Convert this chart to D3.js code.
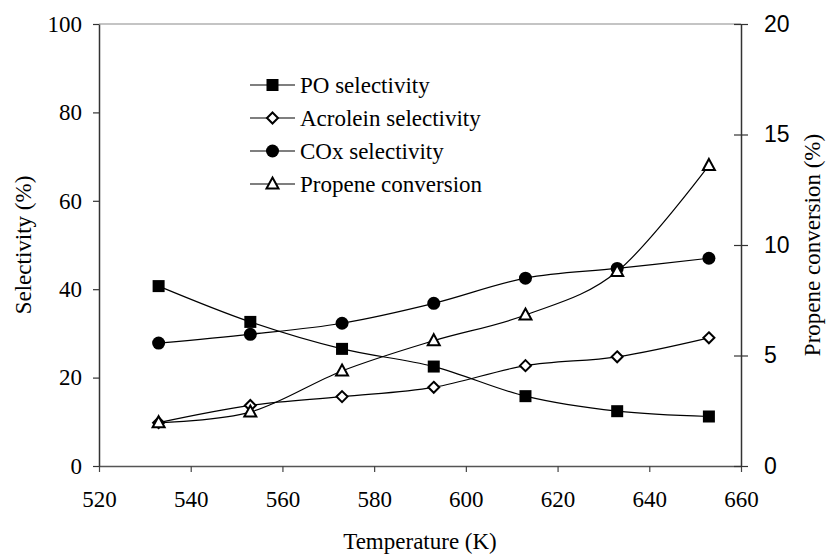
<!DOCTYPE html>
<html>
<head>
<meta charset="utf-8">
<script src="https://cdn.jsdelivr.net/npm/d3@7"></script>
<style>
  html, body { margin: 0; padding: 0; background: #fff; }
  svg text.serif { font-family: "Liberation Serif" !important; }
  svg text.sans { font-family: "Liberation Sans" !important; }
</style>
</head>
<body>
<svg id="fig" width="827" height="557"></svg>
<script>
// Reaction temperature (K)
const temperatures = [533, 553, 573, 593, 613, 633, 653];
// Selectivities (%), left axis
const poSelectivity = [40.7, 32.6, 26.5, 22.5, 15.8, 12.4, 11.2];
const acroleinSelectivity = [9.8, 13.7, 15.7, 17.8, 22.7, 24.7, 29.0];
const coxSelectivity = [27.8, 29.8, 32.3, 36.8, 42.5, 44.7, 47.0];
// Propene conversion (%), right axis
const propeneConversion = [1.96, 2.44, 4.3, 5.67, 6.83, 8.8, 13.6];

const xTicks = [520, 540, 560, 580, 600, 620, 640, 660];
const leftTicks = [0, 20, 40, 60, 80, 100];
const rightTicks = [0, 5, 10, 15, 20];

const seriesNames = ["PO selectivity", "Acrolein selectivity", "COx selectivity", "Propene conversion"];

const FS = 23;

const svg = d3.select("#fig");
const plot = { left: 99, right: 741, top: 24, bottom: 466 };

const x = d3.scaleLinear().domain([520, 660]).range([plot.left, plot.right]);
const yL = d3.scaleLinear().domain([0, 100]).range([plot.bottom, plot.top]);
const yR = d3.scaleLinear().domain([0, 20]).range([plot.bottom, plot.top]);

function serifText(sel) {
  return sel.attr("class", "serif").attr("font-family", "Liberation Serif")
    .style("font-family", "Liberation Serif").attr("font-size", FS);
}
function sansText(sel) {
  return sel.attr("class", "sans").attr("font-family", "Liberation Sans")
    .style("font-family", "Liberation Sans").attr("font-size", FS);
}

// top border of the plot area
svg.append("line")
  .attr("x1", plot.left).attr("x2", plot.right)
  .attr("y1", plot.top).attr("y2", plot.top)
  .attr("stroke", "#8a8a8a").attr("stroke-width", 1.2);

// bottom axis
const gx = svg.append("g")
  .attr("transform", `translate(0,${plot.bottom})`)
  .call(d3.axisBottom(x).tickValues(xTicks).tickSize(6).tickSizeOuter(0).tickPadding(19).tickFormat(d3.format("d")));
gx.attr("font-family", "Liberation Serif").attr("font-size", FS);
gx.select(".domain").attr("stroke", "#555").attr("stroke-width", 1.3);
gx.selectAll(".tick line").attr("stroke", "#444").attr("stroke-width", 1.2);
serifText(gx.selectAll(".tick text")).attr("fill", "#000");

// left axis
const gl = svg.append("g")
  .attr("transform", `translate(${plot.left},0)`)
  .call(d3.axisLeft(yL).tickValues(leftTicks).tickSize(6).tickSizeOuter(0).tickPadding(11));
gl.attr("font-family", "Liberation Serif").attr("font-size", FS);
gl.select(".domain").attr("stroke", "#333").attr("stroke-width", 1.5);
gl.selectAll(".tick line").attr("stroke", "#333").attr("stroke-width", 1.2);
serifText(gl.selectAll(".tick text")).attr("fill", "#000");

// right axis, ticks crossing the line
const gr = svg.append("g")
  .attr("transform", `translate(${plot.right},0)`)
  .call(d3.axisRight(yR).tickValues(rightTicks).tickSize(7).tickSizeOuter(0).tickPadding(16));
gr.attr("font-family", "Liberation Sans").attr("font-size", FS);
gr.select(".domain").attr("stroke", "#333").attr("stroke-width", 1.5);
gr.selectAll(".tick line").attr("x1", -7).attr("stroke", "#333").attr("stroke-width", 1.2);
sansText(gr.selectAll(".tick text")).attr("fill", "#000");

// axis titles
serifText(svg.append("text"))
  .attr("text-anchor", "middle")
  .attr("transform", `translate(31,${(plot.top + plot.bottom) / 2}) rotate(-90)`)
  .text("Selectivity (%)");
serifText(svg.append("text"))
  .attr("text-anchor", "middle")
  .attr("transform", `translate(820,${(plot.top + plot.bottom) / 2}) rotate(-90)`)
  .text("Propene conversion (%)");
serifText(svg.append("text"))
  .attr("text-anchor", "middle")
  .attr("x", (plot.left + plot.right) / 2).attr("y", 549)
  .text("Temperature (K)");

// marker drawing
function drawMarker(g, type) {
  if (type === "square") {
    g.append("rect").attr("x", -6).attr("y", -6).attr("width", 12).attr("height", 12).attr("fill", "#000");
  } else if (type === "diamond") {
    g.append("path").attr("d", "M0,-5.5L5.5,0L0,5.5L-5.5,0Z")
      .attr("fill", "#fff").attr("stroke", "#000").attr("stroke-width", 2);
  } else if (type === "circle") {
    g.append("circle").attr("r", 6.5).attr("fill", "#000");
  } else {
    g.append("path").attr("d", "M0,-6.5L6,4.5L-6,4.5Z")
      .attr("fill", "#fff").attr("stroke", "#000").attr("stroke-width", 2).attr("stroke-linejoin", "miter");
  }
}

const series = [
  { name: seriesNames[0], values: poSelectivity, y: yL, marker: "square" },
  { name: seriesNames[1], values: acroleinSelectivity, y: yL, marker: "diamond" },
  { name: seriesNames[2], values: coxSelectivity, y: yL, marker: "circle" },
  { name: seriesNames[3], values: propeneConversion, y: yR, marker: "triangle" }
];

series.forEach(s => {
  const pts = temperatures.map((t, i) => [x(t), s.y(s.values[i])]);
  svg.append("path")
    .attr("d", d3.line().curve(d3.curveCardinal.tension(0))(pts))
    .attr("fill", "none").attr("stroke", "#000").attr("stroke-width", 1.2);
});
series.forEach(s => {
  temperatures.forEach((t, i) => {
    const g = svg.append("g").attr("transform", `translate(${x(t)},${s.y(s.values[i])})`);
    drawMarker(g, s.marker);
  });
});

// legend
const legendRows = [85, 118, 151, 184];
series.forEach((s, i) => {
  const yy = legendRows[i];
  svg.append("line").attr("x1", 250).attr("x2", 295).attr("y1", yy).attr("y2", yy)
    .attr("stroke", "#000").attr("stroke-width", 1.2);
  const g = svg.append("g").attr("transform", `translate(272.5,${yy})`);
  drawMarker(g, s.marker);
  serifText(svg.append("text"))
    .attr("x", 300).attr("y", yy).attr("dy", "0.33em")
    .text(s.name);
});
</script>
</body>
</html>
